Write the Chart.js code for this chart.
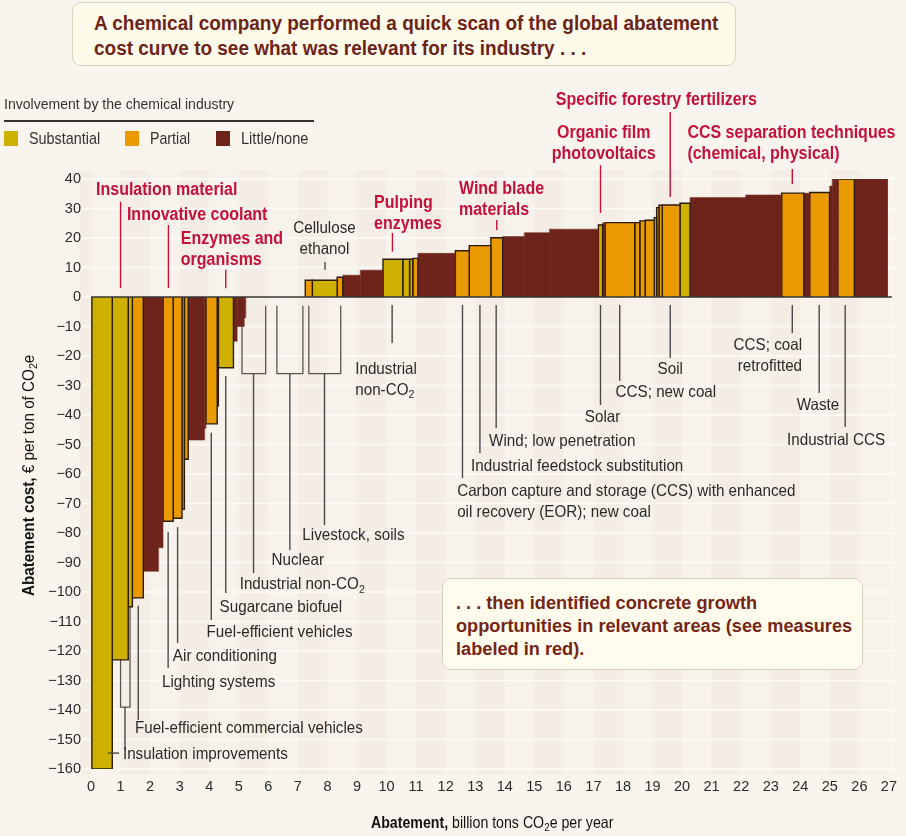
<!DOCTYPE html>
<html>
<head>
<meta charset="utf-8">
<script src="https://cdn.jsdelivr.net/npm/chart.js@4.4.0/dist/chart.umd.min.js"></script>
<style>
    body { margin: 0; background: #f9f5ee; font-family: "Liberation Sans", Arial, sans-serif; }
    #wrap { position: relative; width: 906px; height: 836px; overflow: hidden; }
    canvas { position: absolute; left: 0; top: 0; }
    .box { position: absolute; border: 1px solid #d9d0c2; border-radius: 9px; background: #fffbeb; box-sizing: border-box; font-weight: bold; }
    .fit { display: inline-block; white-space: nowrap; transform-origin: 0 50%; }
    .line { display: block; width: 0; white-space: nowrap; }
    #titleBox { left: 72px; top: 2px; width: 664px; height: 64px; color: #6b2418; font-size: 20px; line-height: 25px; padding: 8px 0 0 21px; }
    #noteBox { left: 442px; top: 578px; width: 421px; height: 92px; color: #742616; font-size: 18px; line-height: 23px; padding: 13px 0 0 13px; background: #fffcee; }
    #legendTitle { position: absolute; left: 4px; top: 95px; font-size: 15.5px; color: #333; }
    #legendRule { position: absolute; left: 4px; top: 120px; width: 310px; height: 1.5px; background: #333; }
    .sw { position: absolute; top: 131px; width: 14px; height: 15px; }
    .lg { position: absolute; top: 129px; font-size: 17px; color: #333; }
    #yTitle { position: absolute; left: 19px; top: 596px; transform-origin: 0 0; transform: rotate(-90deg); white-space: nowrap; font-size: 16.5px; line-height: 18px; color: #111; }
    #xTitle { position: absolute; left: 371px; top: 812px; white-space: nowrap; font-size: 16.5px; line-height: 20px; color: #111; }
    sub { font-size: 70%; vertical-align: -0.25em; line-height: 0; }
</style>
</head>
<body>
<div id="wrap">
    <canvas id="chart" width="906" height="836"></canvas>
    <div class="box" id="titleBox">
        <span class="line"><span class="fit t1" id="title1">A chemical company performed a quick scan of the global abatement</span></span>
        <span class="line"><span class="fit t1">cost curve to see what was relevant for its industry . . .</span></span>
    </div>
    <div class="box" id="noteBox">
        <span class="line"><span class="fit n1">. . . then identified concrete growth</span></span>
        <span class="line"><span class="fit n1" id="note2">opportunities in relevant areas (see measures</span></span>
        <span class="line"><span class="fit n1">labeled in red).</span></span>
    </div>
    <div id="legendTitle"><span class="fit" data-w="230">Involvement by the chemical industry</span></div>
    <div id="legendRule"></div>
    <div class="sw" style="left:4px;background:#ceb000"></div><div class="lg" style="left:29px"><span class="fit" data-w="71">Substantial</span></div>
    <div class="sw" style="left:125px;background:#e99a00"></div><div class="lg" style="left:150px"><span class="fit" data-w="40">Partial</span></div>
    <div class="sw" style="left:216px;background:#6e241b"></div><div class="lg" style="left:241px"><span class="fit" data-w="67">Little/none</span></div>
    <div id="yTitle"><span class="fit" data-w="241"><b>Abatement cost,</b> € per ton of CO<sub>2</sub>e</span></div>
    <div id="xTitle"><span class="fit" data-w="242"><b>Abatement,</b> billion tons CO<sub>2</sub>e per year</span></div>
</div>
<script>
const FAMILY = '"Liberation Sans", Arial, sans-serif';

// Measures: start and end of each bar (billion t CO2e) and cost (EUR per t)
const barStart = [0.03, 0.72, 1.26, 1.40, 1.77, 2.29, 2.44, 2.78, 3.08, 3.16, 3.29, 3.85, 3.89, 4.27, 4.31, 4.82, 4.95, 5.19,
    7.25, 7.49, 8.33, 8.52, 9.11, 9.88, 10.55, 10.78, 10.89, 11.06, 12.33, 12.80, 13.53, 13.93, 14.66, 15.51, 17.17, 17.31,
    17.40, 18.40, 18.57, 18.75, 19.06, 19.14, 19.22, 19.33, 19.93, 20.27, 22.15, 23.37, 24.12, 24.32, 24.99, 25.08, 25.27, 25.83];
const barEnd = [0.72, 1.26, 1.40, 1.77, 2.29, 2.44, 2.78, 3.08, 3.16, 3.29, 3.85, 3.89, 4.27, 4.31, 4.82, 4.95, 5.19, 5.24,
    7.49, 8.33, 8.52, 9.11, 9.88, 10.55, 10.78, 10.89, 11.06, 12.33, 12.80, 13.53, 13.93, 14.66, 15.51, 17.17, 17.31, 17.40,
    18.40, 18.57, 18.75, 19.06, 19.14, 19.22, 19.33, 19.93, 20.27, 22.15, 23.37, 24.12, 24.32, 24.99, 25.08, 25.27, 25.83, 26.95];
const barCost = [-160, -123, -105, -102, -93, -85, -76, -75, -72, -55, -48.5, -44.5, -43, -37, -24, -15, -10, -7,
    5.7, 5.7, 6.7, 7.4, 9.1, 12.8, 12.8, 12.8, 13.1, 14.8, 15.7, 17.4, 20.1, 20.5, 21.8, 23.0, 24.4, 25.2,
    25.2, 25.2, 25.8, 26.0, 26.9, 30.3, 31.1, 31.2, 31.8, 33.7, 34.6, 35.2, 35.2, 35.4, 37.6, 40, 40, 40];
// S = substantial, P = partial, L = little/none
const barInvolvement = ['S', 'S', 'S', 'P', 'L', 'L', 'P', 'P', 'P', 'P', 'L', 'L', 'P', 'P', 'S', 'L', 'L', 'L',
    'P', 'S', 'P', 'L', 'L', 'S', 'S', 'S', 'P', 'L', 'P', 'P', 'P', 'L', 'L', 'L', 'S', 'L',
    'P', 'P', 'P', 'P', 'P', 'P', 'P', 'P', 'S', 'L', 'L', 'P', 'L', 'P', 'L', 'L', 'P', 'L'];

// measures shown only as outlines (not rated)
const openStart = [1.00, 5.11, 6.29, 7.37];
const openEnd = [1.32, 5.91, 7.17, 8.45];
const openCost = [-139, -26, -26, -26];

const xTicks = Array.from({ length: 28 }, (_, i) => i);

const colors = { S: '#ceb000', P: '#e99a00', L: '#6e241b' };
const borders = { S: '#2a1c08', P: '#2a1c08', L: '#6e241b' };

// labels: text lines, anchor (abatement, cost), align, leader line (x, from, to)
const redNotes = [
    { lines: ['Insulation material'], at: [0.17, 36.3], align: 'left', leader: [1.0, 32.3, 3.0] },
    { lines: ['Innovative coolant'], at: [1.215, 27.8], align: 'left', leader: [2.62, 24.4, 3.0] },
    { lines: ['Enzymes and', 'organisms'], at: [3.04, 19.7], align: 'left', leader: [4.56, 9.2, 3.0] },
    { lines: ['Pulping', 'enzymes'], at: [9.58, 31.9], align: 'left', leader: [10.2, 21.7, 15.4] },
    { lines: ['Wind blade', 'materials'], at: [12.45, 36.6], align: 'left', leader: [13.73, 26.1, 22.7] },
    { lines: ['Organic film', 'photovoltaics'], at: [17.35, 55.6], align: 'center', leader: [17.24, 44.7, 28.5] },
    { lines: ['Specific forestry fertilizers'], at: [15.73, 66.8], align: 'left', leader: [19.6, 62.7, 33.9] },
    { lines: ['CCS separation techniques', '(chemical, physical)'], at: [20.18, 55.6], align: 'left', leader: [23.73, 43.4, 38.3] }
];
const grayNotes = [
    { lines: ['Cellulose', 'ethanol'], at: [7.9, 23.4], align: 'center', leader: [7.92, 11.9, 9.2] },
    { lines: ['Industrial', 'non-CO2'], at: [8.94, -24.4], align: 'left', leader: [10.19, -2.7, -15.6] },
    { lines: ['Carbon capture and storage (CCS) with enhanced', 'oil recovery (EOR); new coal'], at: [12.39, -65.8], align: 'left', leader: [12.57, -2.7, -61.4] },
    { lines: ['Industrial feedstock substitution'], at: [12.86, -57.3], align: 'left', leader: [13.16, -2.7, -52.9] },
    { lines: ['Wind; low penetration'], at: [13.47, -48.8], align: 'left', leader: [13.71, -2.7, -44.4] },
    { lines: ['Solar'], at: [17.31, -40.7], align: 'center', leader: [17.24, -2.7, -36.6] },
    { lines: ['CCS; new coal'], at: [17.75, -32.5], align: 'left', leader: [17.89, -2.7, -28.4] },
    { lines: ['Soil'], at: [19.6, -24.4], align: 'center', leader: [19.6, -2.7, -20.7] },
    { lines: ['CCS; coal', 'retrofitted'], at: [24.06, -16.3], align: 'right', leader: [23.73, -2.7, -12.2] },
    { lines: ['Waste'], at: [24.6, -36.6], align: 'center', leader: [24.64, -2.7, -32.5] },
    { lines: ['Industrial CCS'], at: [25.21, -48.5], align: 'center', leader: [25.52, -2.7, -44.1] },
    { lines: ['Livestock, soils'], at: [7.15, -81.0], align: 'left', leader: [7.9, -26.1, -77.3] },
    { lines: ['Nuclear'], at: [6.11, -89.2], align: 'left', leader: [6.73, -26.1, -85.8] },
    { lines: ['Industrial non-CO2'], at: [5.03, -97.6], align: 'left', leader: [5.5, -26.1, -93.6] },
    { lines: ['Sugarcane biofuel'], at: [4.35, -105.4], align: 'left', leader: [4.56, -26.8, -100.3] },
    { lines: ['Fuel-efficient vehicles'], at: [3.91, -113.6], align: 'left', leader: [4.07, -46, -109.5] },
    { lines: ['Air conditioning'], at: [2.77, -122], align: 'left', leader: [2.93, -78, -117.3] },
    { lines: ['Lighting systems'], at: [2.4, -130.5], align: 'left', leader: [2.61, -79.7, -125.8] },
    { lines: ['Fuel-efficient commercial vehicles'], at: [1.485, -146.4], align: 'left', leader: [1.6, -104.7, -143.4] },
    { lines: ['Insulation improvements'], at: [1.08, -154.9], align: 'left', leader: [1.15, -139, -153.6], tick: [0.58, 0.95, -154.6] }
];

// squeeze html text to the widths of the condensed original type
function fitGroup(cls, refEl, target) {
    const f = target / refEl.offsetWidth;
    document.querySelectorAll('.' + cls).forEach(el => { el.style.transform = `scaleX(${f})`; });
}
fitGroup('t1', document.getElementById('title1'), 624);
fitGroup('n1', document.getElementById('note2'), 396);
document.querySelectorAll('[data-w]').forEach(el => {
    el.style.transform = `scaleX(${el.dataset.w / el.offsetWidth})`;
});

// build one dataset per bar
const datasets = [];
barStart.forEach((x0, i) => {
    const x1 = barEnd[i], c = barCost[i], k = barInvolvement[i];
    datasets.push({
        data: [{ x: x0, y: 0 }, { x: x0, y: c }, { x: x1, y: c }, { x: x1, y: 0 }],
        backgroundColor: colors[k],
        borderColor: borders[k],
        borderWidth: k === 'L' ? 0.5 : 1.4,
        fill: 'origin',
        order: 1
    });
});
openStart.forEach((x0, i) => {
    datasets.push({
        data: [{ x: x0, y: -3 }, { x: x0, y: openCost[i] }, { x: openEnd[i], y: openCost[i] }, { x: openEnd[i], y: -3 }],
        borderColor: '#5b5550',
        borderWidth: 1.3,
        fill: false,
        order: 5
    });
});

function drawRich(c, text, x, y, align, weight, size, color, squeeze) {
    const main = `${weight} ${size}px ${FAMILY}`;
    const small = `${weight} ${size * 0.7}px ${FAMILY}`;
    const segs = [];
    const parts = text.split('CO2');
    parts.forEach((p, i) => {
        segs.push({ t: p });
        if (i < parts.length - 1) { segs.push({ t: 'CO' }); segs.push({ t: '2', sub: true }); }
    });
    let w = 0;
    segs.forEach(s => { c.font = s.sub ? small : main; s.w = c.measureText(s.t).width * squeeze; w += s.w; });
    let sx = align === 'center' ? x - w / 2 : align === 'right' ? x - w : x;
    c.textAlign = 'left';
    c.textBaseline = 'middle';
    c.fillStyle = color;
    segs.forEach(s => {
        c.font = s.sub ? small : main;
        c.save();
        c.translate(sx, s.sub ? y + size * 0.3 : y);
        c.scale(squeeze, 1);
        c.fillText(s.t, 0, 0);
        c.restore();
        sx += s.w;
    });
}

const backgroundPlugin = {
    id: 'bgCells',
    beforeDraw(chart) {
        const c = chart.ctx, xs = chart.scales.x, ys = chart.scales.y;
        c.save();
        c.fillStyle = '#f9f5ee';
        c.fillRect(0, 0, chart.width, chart.height);
        const top = ys.getPixelForValue(43), bottom = ys.getPixelForValue(-162);
        for (let i = -1; i < 27; i++) {
            const l = Math.max(xs.getPixelForValue(i), xs.getPixelForValue(-0.4));
            const r = Math.min(xs.getPixelForValue(i + 1), xs.getPixelForValue(27.2));
            c.fillStyle = (i % 2 !== 0) ? '#f3ede6' : '#f7f3ec';
            c.fillRect(l, top, r - l, bottom - top);
        }
        c.strokeStyle = 'rgba(255,255,255,0.75)';
        c.lineWidth = 1.5;
        for (let v = -160; v <= 40; v += 10) {
            const y = ys.getPixelForValue(v);
            c.beginPath();
            c.moveTo(xs.getPixelForValue(-0.4), y);
            c.lineTo(xs.getPixelForValue(27.2), y);
            c.stroke();
        }
        c.restore();
    }
};

const notesPlugin = {
    id: 'notes',
    afterDraw(chart) {
        const c = chart.ctx, xs = chart.scales.x, ys = chart.scales.y;
        c.save();
        // zero axis line
        c.strokeStyle = '#333';
        c.lineWidth = 1.5;
        c.beginPath();
        c.moveTo(xs.getPixelForValue(0), ys.getPixelForValue(0));
        c.lineTo(xs.getPixelForValue(27.1), ys.getPixelForValue(0));
        c.stroke();

        // condensing factors taken from two reference label widths
        c.font = `normal 16.5px ${FAMILY}`;
        const graySq = 228 / c.measureText('Fuel-efficient commercial vehicles').width;
        c.font = `bold 18px ${FAMILY}`;
        const redSq = 201 / c.measureText('Specific forestry fertilizers').width;

        const drawNote = (n, weight, size, color, lineColor, step, sq) => {
            c.strokeStyle = lineColor;
            c.lineWidth = 1.4;
            const lx = xs.getPixelForValue(n.leader[0]);
            c.beginPath();
            c.moveTo(lx, ys.getPixelForValue(n.leader[1]));
            c.lineTo(lx, ys.getPixelForValue(n.leader[2]));
            c.stroke();
            if (n.tick) {
                const ty = ys.getPixelForValue(n.tick[2]);
                c.beginPath();
                c.moveTo(xs.getPixelForValue(n.tick[0]), ty);
                c.lineTo(xs.getPixelForValue(n.tick[1]), ty);
                c.stroke();
            }
            const x = xs.getPixelForValue(n.at[0]);
            const y = ys.getPixelForValue(n.at[1]);
            n.lines.forEach((t, j) => drawRich(c, t, x, y + j * step, n.align, weight, size, color, sq));
        };
        redNotes.forEach(n => drawNote(n, 'bold', 18, '#c4113a', '#c4113a', 21.5, redSq));
        grayNotes.forEach(n => drawNote(n, 'normal', 16.5, '#2a2a2a', '#4a4a4a', 21, graySq));
        c.restore();
    }
};

new Chart(document.getElementById('chart'), {
    type: 'line',
    data: { datasets },
    options: {
        responsive: false,
        animation: false,
        events: [],
        layout: { padding: { top: 179, right: 15, left: 0, bottom: 0 } },
        elements: { point: { radius: 0 }, line: { tension: 0 } },
        plugins: { legend: { display: false }, tooltip: { enabled: false } },
        scales: {
            x: {
                type: 'linear', min: 0, max: 27,
                afterBuildTicks: s => { s.ticks = xTicks.map(v => ({ value: v })); },
                ticks: { padding: 9, color: '#2b2b2b', font: { family: FAMILY, size: 14.5 } },
                grid: { display: false, drawTicks: false },
                border: { display: false },
                afterFit: s => { s.height = 67; }
            },
            y: {
                min: -160, max: 40,
                ticks: {
                    stepSize: 10, padding: 10, color: '#2b2b2b', font: { family: FAMILY, size: 14.5 },
                    callback: v => v < 0 ? '\u2212' + Math.abs(v) : String(v)
                },
                grid: { display: false, drawTicks: false },
                border: { display: false },
                afterFit: s => { s.width = 91; }
            }
        }
    },
    plugins: [backgroundPlugin, notesPlugin]
});
</script>
</body>
</html>
